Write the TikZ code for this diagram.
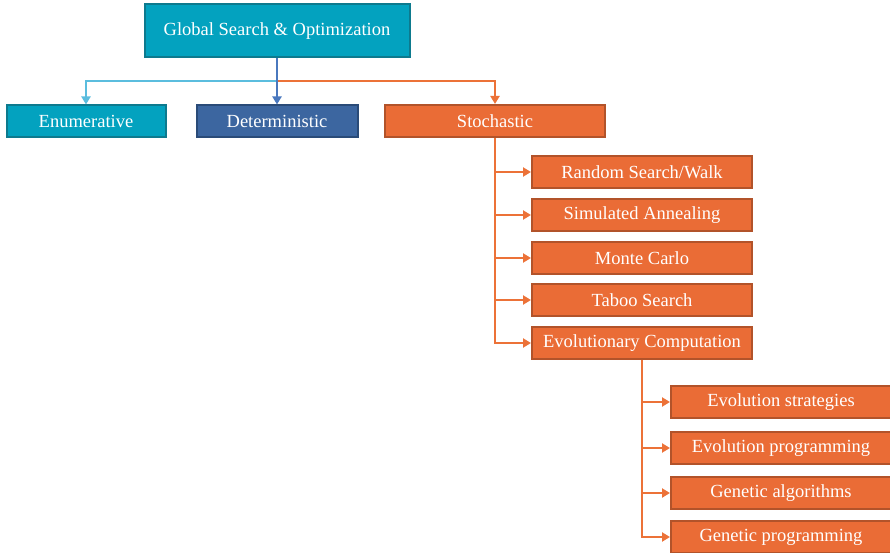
\documentclass[tikz,border=0pt]{standalone}
\usepackage{fontspec}
\setmainfont{Liberation Serif}
\usetikzlibrary{arrows.meta}

\definecolor{tealfill}{HTML}{03A2BF}
\definecolor{tealedge}{HTML}{0D7A8E}
\definecolor{bluefill}{HTML}{3C66A0}
\definecolor{blueedge}{HTML}{2A4B78}
\definecolor{orangefill}{HTML}{EA6C36}
\definecolor{orangeedge}{HTML}{B2532A}
\definecolor{cyanline}{HTML}{5BBDDE}
\definecolor{blueline}{HTML}{4A78BE}
\definecolor{orangeline}{HTML}{EC7238}

\tikzset{
  box/.style={
    draw, line width=2pt, text=white, inner sep=0pt,
    minimum height=32pt, minimum width=220pt,
    font=\fontsize{18.5}{21}\selectfont
  },
  tealbox/.style={box, fill=tealfill, draw=tealedge},
  bluebox/.style={box, fill=bluefill, draw=blueedge},
  orangebox/.style={box, fill=orangefill, draw=orangeedge},
  link/.style={line width=2.6pt, -{Triangle[length=8pt,width=9pt]}}
}

\begin{document}
\begin{tikzpicture}[x=1pt,y=-1pt]
    \useasboundingbox (0,0) rectangle (890,553);

    % root and first level
    \node[tealbox, minimum width=265pt, minimum height=53pt] (root) at (277,31) {Global Search \& Optimization};
    \node[tealbox, minimum width=159pt] (enum) at (86,121.5) {Enumerative};
    \node[bluebox, minimum width=161pt] (determ) at (277,121.5) {Deterministic};
    \node[orangebox] (stoch) at (495,121) {Stochastic};

    \coordinate (split) at (277,81);
    \draw[link, cyanline] (root.south) -- (split) -| (enum.north);
    \draw[link, orangeline] (split) -| (stoch.north);
    \draw[link, blueline] (root.south) -- (determ.north);

    % stochastic methods
    \node[orangebox] (random) at (642,172) {Random Search/Walk};
    \node[orangebox] (anneal) at (642,215) {Simulated Annealing};
    \node[orangebox] (monte) at (642,258) {Monte Carlo};
    \node[orangebox] (taboo) at (642,300) {Taboo Search};
    \node[orangebox] (evo) at (642,343) {Evolutionary Computation};

    \foreach \n in {random,anneal,monte,taboo,evo}
        \draw[link, orangeline] (stoch.south) |- (\n.west);

    % evolutionary computation
    \node[orangebox] (strat) at (781,402) {Evolution strategies};
    \node[orangebox] (evoprog) at (781,448) {Evolution programming};
    \node[orangebox] (genalg) at (781,493) {Genetic algorithms};
    \node[orangebox] (genprog) at (781,537) {Genetic programming};

    \foreach \n in {strat,evoprog,genalg,genprog}
        \draw[link, orangeline] (evo.south) |- (\n.west);
\end{tikzpicture}
\end{document}
